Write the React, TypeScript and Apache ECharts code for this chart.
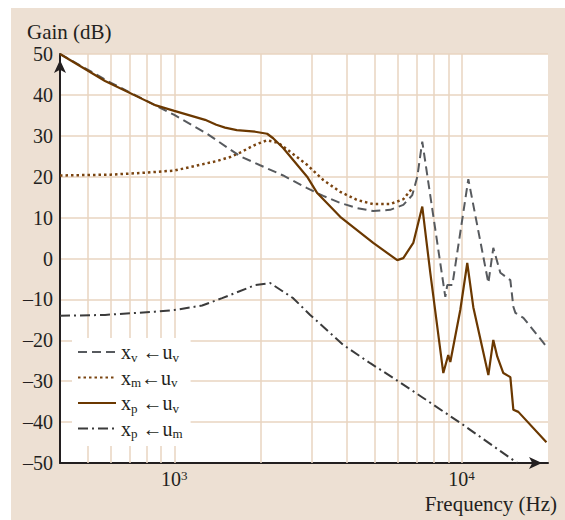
import React, { useEffect, useRef } from 'react';
import * as echarts from 'echarts';

// x_v <- u_v (dashed)
const xvUvFreq = [400, 600, 1000, 1300, 1695, 1990, 2393, 2900, 3300, 3781, 4332, 4927, 5646, 6270, 6738, 7015, 7300, 8780, 8920, 9290, 10560, 12400, 12900, 13650, 14790, 15150, 15400, 16420, 19590];
const xvUvGain = [50, 43, 35.1, 30.5, 25, 22.8, 20.3, 17.2, 15.3, 13.6, 12.3, 11.6, 11.9, 13.1, 15.5, 20, 28.6, -9.4, -6.5, -6.5, 19.4, -6, 2.6, -3.5, -5.3, -11.8, -13.3, -14.5, -21.2];

// x_m <- u_v (dotted)
const xmUvFreq = [400, 600, 800, 1000, 1230, 1400, 1564, 1695, 1911, 2100, 2300, 2532, 2900, 3300, 3781, 4332, 4927, 5646, 6270, 6738];
const xmUvGain = [20.3, 20.5, 21.0, 21.5, 22.9, 23.8, 24.8, 25.9, 27.8, 28.9, 28.3, 26.1, 22.9, 19.2, 16.3, 14.3, 13.3, 13.3, 14.5, 17.2];

// x_p <- u_v (solid)
const xpUvFreq = [400, 574, 857, 1000, 1280, 1400, 1502, 1650, 1911, 2105, 2209, 2393, 2900, 3145, 3781, 4927, 5972, 6270, 6792, 7300, 7540, 7785, 8640, 8990, 9140, 9900, 10470, 10990, 12400, 12900, 13320, 13980, 14790, 15150, 15770, 19750];
const xpUvGain = [50, 43.4, 37.5, 36.1, 33.9, 32.7, 32.0, 31.4, 31.0, 30.5, 29.4, 27, 20, 16, 10.2, 3.8, -0.4, 0.1, 3.8, 12.7, 4.5, -3.5, -28, -23.6, -25.3, -12.6, -1.1, -11.9, -28.5, -19.9, -24, -28, -29, -37, -37.5, -44.9];

// x_p <- u_m (dash-dot)
const xpUmFreq = [400, 574, 857, 1000, 1250, 1467, 1911, 2157, 2593, 2972, 3873, 4810, 5784, 7360, 10000, 15640];
const xpUmGain = [-14, -13.8, -13, -12.6, -11.5, -9.7, -6.5, -6.0, -9.7, -13.8, -21.1, -25.6, -29.2, -34.1, -40.4, -50];

const gridFreqs = [500, 600, 700, 800, 900, 1000, 2000, 3000, 4000, 5000, 6000, 7000, 8000, 9000, 10000];

const seriesNames = ['xv-uv', 'xm-uv', 'xp-uv', 'xp-um'];
const legendLabels: Record<string, string> = {
  'xv-uv': 'x{s|v} \u2190u{s|v}',
  'xm-uv': 'x{s|m}\u2190u{s|v}',
  'xp-uv': 'x{s|p} \u2190u{s|v}',
  'xp-um': 'x{s|p} \u2190u{s|m}',
};

const FONT = '"Liberation Serif", "Times New Roman", serif';
const GRID = '#e8d5c1';
const INK = '#231f20';

const pairs = (f: number[], g: number[]) => f.map((v, i) => [v, g[i]]);

export default function App() {
  const ref = useRef<HTMLDivElement>(null);
  useEffect(() => {
    const chart = echarts.init(ref.current!, null, { renderer: 'svg' });
    const option: any = {
      animation: false,
      backgroundColor: '#ede0d3',
      grid: { left: 49, right: 17, top: 46, bottom: 57, show: true, backgroundColor: '#ffffff', borderWidth: 0 },
      xAxis: {
        type: 'log',
        logBase: 10,
        min: 400,
        max: 20000,
        axisLine: { onZero: false, lineStyle: { color: INK, width: 2 }, symbol: ['none', 'arrow'], symbolSize: [9, 13], symbolOffset: [0, -6] },
        axisTick: { show: false },
        splitLine: { show: false },
        minorSplitLine: { show: false },
        axisLabel: {
          margin: 6,
          fontFamily: FONT,
          fontSize: 20,
          lineHeight: 20,
          color: INK,
          formatter: (v: number) => {
            const e = Math.log10(v);
            const r = Math.round(e);
            if (Math.abs(e - r) < 1e-6 && (r === 3 || r === 4)) return '10{sup|' + r + '}';
            return '';
          },
          rich: { sup: { fontSize: 13, fontFamily: FONT, color: INK, lineHeight: 14, padding: [0, 0, 8, 0] } },
        },
      },
      yAxis: {
        type: 'value',
        min: -50,
        max: 50,
        interval: 10,
        axisLine: { show: true, lineStyle: { color: INK, width: 2 }, symbol: ['none', 'arrow'], symbolSize: [9, 13], symbolOffset: [0, -6] },
        axisTick: { show: false },
        splitLine: { show: true, lineStyle: { color: GRID, width: 1.5 } },
        axisLabel: {
          margin: 7,
          fontFamily: FONT,
          fontSize: 20,
          color: INK,
          formatter: (v: number) => (v < 0 ? '\u2013' + -v : String(v)),
        },
      },
      legend: {
        data: seriesNames,
        orient: 'vertical',
        left: 61,
        top: 330,
        backgroundColor: '#ffffff',
        padding: [4, 8, 6, 5],
        itemGap: 4,
        itemWidth: 38,
        itemHeight: 14,
        selectedMode: false,
        itemStyle: { opacity: 0, color: 'rgba(0,0,0,0)', borderWidth: 0, borderColor: 'rgba(0,0,0,0)' },
        formatter: (n: string) => legendLabels[n],
        textStyle: {
          fontFamily: FONT,
          fontSize: 20,
          color: INK,
          rich: { s: { fontFamily: FONT, fontSize: 13, color: INK, padding: [10, 0, 0, 0] } },
        },
      },
      graphic: [
        { type: 'text', left: 16, top: 13, style: { text: 'Gain (dB)', font: '21px ' + FONT, fill: INK } },
        { type: 'text', right: 8, top: 485, style: { text: 'Frequency (Hz)', font: '21px ' + FONT, fill: INK } },
      ],
      series: [
        {
          type: 'line',
          name: 'gridlines',
          data: [],
          silent: true,
          z: 1,
          markLine: {
            silent: true,
            z: 1,
            symbol: ['none', 'none'],
            label: { show: false },
            lineStyle: { color: GRID, width: 1.5, type: 'solid' },
            data: gridFreqs.map((f) => ({ xAxis: f })),
          },
        },
        {
          type: 'line', name: 'xv-uv', data: pairs(xvUvFreq, xvUvGain), showSymbol: false, symbol: 'none', z: 3,
          lineStyle: { color: '#575a5e', width: 2, type: [9, 5] }, itemStyle: { color: '#575a5e' },
        },
        {
          type: 'line', name: 'xm-uv', data: pairs(xmUvFreq, xmUvGain), showSymbol: false, symbol: 'none', z: 2,
          lineStyle: { color: '#7a4410', width: 2.5, type: [2.5, 3] }, itemStyle: { color: '#7a4410' },
        },
        {
          type: 'line', name: 'xp-uv', data: pairs(xpUvFreq, xpUvGain), showSymbol: false, symbol: 'none', z: 4,
          lineStyle: { color: '#6b3800', width: 2.2, type: 'solid' }, itemStyle: { color: '#6b3800' },
        },
        {
          type: 'line', name: 'xp-um', data: pairs(xpUmFreq, xpUmGain), showSymbol: false, symbol: 'none', z: 3,
          lineStyle: { color: '#3b3b3b', width: 2, type: [10, 4, 2, 4] }, itemStyle: { color: '#3b3b3b' },
        },
      ],
    };
    chart.setOption(option);
    return () => chart.dispose();
  }, []);
  return (
    <div style={{ position: 'fixed', left: 0, top: 0, width: 565, height: 520, background: '#ffffff' }}>
      <div ref={ref} style={{ position: 'absolute', left: 11, top: 8, width: 554, height: 512 }} />
    </div>
  );
}
